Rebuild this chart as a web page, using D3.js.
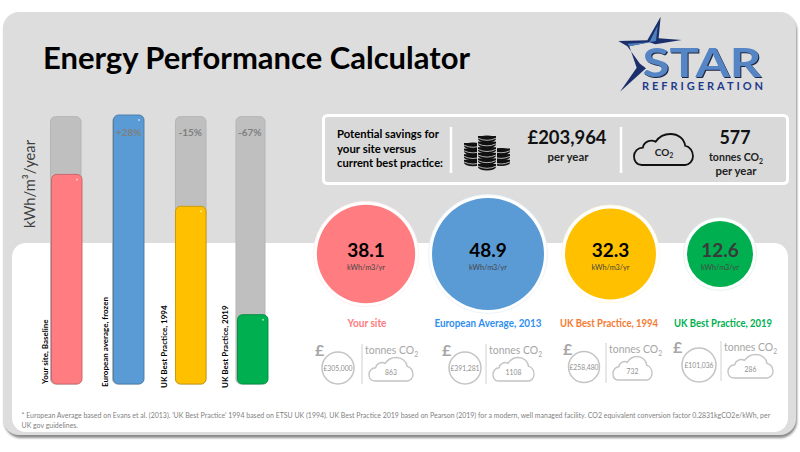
<!DOCTYPE html>
<html>
<head>
<meta charset="utf-8">
<style>
  html, body { margin: 0; padding: 0; background: #fff; }
  svg { display: block; }
  text { font-family: Lato, "Open Sans", sans-serif; }
</style>
<script src="https://cdn.jsdelivr.net/npm/d3@7"></script>
</head>
<body>
<div id="chart"></div>
<script>
// data
const barLabels = ["Your site, Baseline", "European average, frozen", "UK Best Practice, 1994", "UK Best Practice, 2019"];
const circleLabels = ["Your site", "European Average, 2013", "UK Best Practice, 1994", "UK Best Practice, 2019"];
const values = [38.1, 48.9, 32.3, 12.6];
const trackTop = 48.6;
const percents = ["", "+28%", "-15%", "-67%"];
const costs = ["£305,000", "£391,281", "£258,480", "£101,036"];
const tonnes = ["863", "1108", "732", "286"];
const colors = ["#FF7C80", "#5B9BD5", "#FFC000", "#00B050"];
const labelColors = ["#FF7C80", "#2F8FEF", "#F47B30", "#00B050"];
const savingsCost = "£203,964";
const savingsCo2 = "577";
const savingsLines = ["Potential savings for", "your site versus", "current best practice:"];
const footnote = [
  "* European Average based on Evans et al. (2013). 'UK Best Practice'  1994 based on ETSU UK (1994). UK Best Practice 2019 based on Pearson (2019) for a modern, well managed facility.  CO2 equivalent conversion factor 0.2831kgCO2e/kWh, per",
  "UK gov guidelines."
];

// layout of the circles and the small cost/co2 groups
const circleX = [366, 488, 610.5, 720];
const groupX = [319, 446, 567, 677];
const groupDy = [0, 0, -1, -3];
const circleOff = [19, 19, 17, 22];
const ringR = [16, 16, 15.5, 17];
const dividerOff = [43, 40, 39, 44];
const cloudW = [44, 41, 39, 45];

const width = 800, height = 452;
const svg = d3.select("#chart").append("svg")
  .attr("width", width).attr("height", height);

// Lato runs wider than the original font, so squeeze to the measured width
function fit(sel, w) {
  sel.attr("textLength", w).attr("lengthAdjust", "spacingAndGlyphs");
}

const defs = svg.append("defs");
defs.append("filter").attr("id", "blur").append("feGaussianBlur").attr("stdDeviation", 1);

// card + white panel
svg.append("rect").attr("x", 4).attr("y", 14).attr("width", 793).attr("height", 424)
  .attr("rx", 17).attr("fill", "#8c8c8c").attr("filter", "url(#blur)");
svg.append("rect").attr("x", 3).attr("y", 12).attr("width", 793).attr("height", 423)
  .attr("rx", 16).attr("fill", "#dddddd");
svg.append("rect").attr("x", 12).attr("y", 243).attr("width", 776).attr("height", 189)
  .attr("rx", 14).attr("fill", "#ffffff");

svg.append("text").attr("x", 43).attr("y", 69)
  .attr("font-size", 31).attr("font-weight", 700).attr("fill", "#000")
  .call(fit, 427)
  .text("Energy Performance Calculator");

// logo
const logo = svg.append("g").attr("transform", "translate(590,5) scale(0.3333)");
logo.append("path")
  .attr("d", "M85,108 L172,106 L212,35 L206,100 L275,105 L196,118 L178,112 L118,124 L140,188 L90,260 L168,190 L150,176 L112,124 Z")
  .attr("fill", "#1a2f6b");
logo.append("path")
  .attr("d", "M112,116 L178,112 L203,62 L198,108 L178,112 L118,124 Z")
  .attr("fill", "#4f81bd");
svg.append("text").attr("x", 642.5).attr("y", 76.5)
  .attr("font-family", "Liberation Sans").attr("font-size", 40).attr("font-weight", 700)
  .call(fit, 119)
  .style("filter", "drop-shadow(1.5px 1.5px 0 #1c2440)")
  .attr("fill", "#5585c5").text("STAR");
svg.append("text").attr("x", 642).attr("y", 89.5)
  .attr("font-family", "Liberation Sans").attr("font-size", 11).attr("font-weight", 700)
  .attr("textLength", 121).attr("fill", "#1f3a8a").text("REFRIGERATION");

// bars
const x = d3.scaleBand().domain(d3.range(values.length)).range([51.5, 268]).paddingInner(0.508).paddingOuter(0);
const y = d3.scaleLinear().domain([0, 48.9]).range([384, 115]);
const trackNudge = [-1, -1, 0, -1.5];

svg.append("g").selectAll("rect").data(values).join("rect")
  .attr("x", (d, i) => x(i) + trackNudge[i])
  .attr("y", y(trackTop))
  .attr("width", (d, i) => i === 3 ? x.bandwidth() - 1.5 : x.bandwidth())
  .attr("height", y(0) - y(trackTop))
  .attr("rx", 5)
  .attr("fill", "#bfbfbf").attr("stroke", "#b5b5b5");

svg.append("g").selectAll("rect").data(values).join("rect")
  .attr("x", (d, i) => x(i))
  .attr("y", d => y(d))
  .attr("width", x.bandwidth())
  .attr("height", d => y(0) - y(d))
  .attr("rx", 5)
  .attr("fill", (d, i) => colors[i])
  .attr("stroke", (d, i) => d3.color(colors[i]).darker(0.7))
  .attr("stroke-width", 0.9);

svg.append("g").selectAll("circle").data(values).join("circle")
  .attr("cx", (d, i) => x(i) + x.bandwidth() - 5)
  .attr("cy", d => y(d) + 5)
  .attr("r", 1)
  .attr("fill", "#fff").attr("opacity", 0.6);

svg.append("g").selectAll("text").data(percents).join("text")
  .attr("x", (d, i) => x(i) + x.bandwidth() / 2 + (i === 3 ? -3 : i === 2 ? -0.5 : 0))
  .attr("y", 136)
  .attr("text-anchor", "middle")
  .attr("font-size", 10).attr("font-weight", 700).attr("fill", "#7f7f7f")
  .text(d => d);

const barLabelX = [48, 108, 167, 228];
const barLabelY = [384, 387, 388, 388];
svg.append("g").selectAll("text").data(barLabels).join("text")
  .attr("transform", (d, i) => `translate(${barLabelX[i]},${barLabelY[i]}) rotate(-90)`)
  .attr("font-size", 8).attr("font-weight", 700).attr("fill", "#000")
  .text(d => d);

svg.append("text")
  .attr("transform", "translate(35,228) rotate(-90)")
  .attr("font-size", 15.5).attr("fill", "#404040")
  .call(fit, 88)
  .text("kWh/m³/year");

// savings box
svg.append("rect").attr("x", 323.5).attr("y", 115.5).attr("width", 464).attr("height", 68)
  .attr("rx", 4).attr("fill", "#d9d9d9").attr("stroke", "#fff").attr("stroke-width", 3);
[451, 621].forEach(dx => {
  svg.append("line").attr("x1", dx).attr("x2", dx).attr("y1", 127).attr("y2", 173)
    .attr("stroke", "#fff").attr("stroke-width", 2.5);
});
const savingsWidths = [102, 79, 106];
svg.append("g").selectAll("text").data(savingsLines).join("text")
  .attr("x", 337).attr("y", (d, i) => 138 + i * 14.6)
  .attr("font-size", 12).attr("font-weight", 700).attr("fill", "#000")
  .attr("lengthAdjust", "spacingAndGlyphs")
  .attr("textLength", (d, i) => savingsWidths[i])
  .text(d => d);

// coins
function coinStack(cx, top, n) {
  svg.append("rect").attr("x", cx - 10).attr("y", top - 2).attr("width", 20).attr("height", n * 5.6 + 5)
    .attr("rx", 5).attr("fill", "#d9d9d9");
  d3.range(n).forEach(i => {
    const cy = top + i * 5.6;
    svg.append("ellipse").attr("cx", cx).attr("cy", cy + 2).attr("rx", 9).attr("ry", 3.4).attr("fill", "#111");
    svg.append("rect").attr("x", cx - 9).attr("y", cy - 1).attr("width", 18).attr("height", 3).attr("fill", "#111");
    svg.append("path").attr("d", `M${cx - 9},${cy + 1.2} Q${cx},${cy + 5.4} ${cx + 9},${cy + 1.2}`)
      .attr("fill", "none").attr("stroke", "#d9d9d9").attr("stroke-width", 0.8);
  });
}
coinStack(473, 144, 4);
coinStack(501, 149.5, 3);
coinStack(487, 137, 6);

svg.append("text").attr("x", 567).attr("y", 144).attr("text-anchor", "middle")
  .attr("font-size", 19.5).attr("font-weight", 700).attr("fill", "#111").call(fit, 79).text(savingsCost);
svg.append("text").attr("x", 568).attr("y", 161).attr("text-anchor", "middle")
  .attr("font-size", 11.5).attr("font-weight", 700).attr("fill", "#222").call(fit, 41).text("per year");

const cloudPath = "M8,32 C2,32 0,27 0,23 C0,18 4,14 9,14 C10,8 17,5 22,8 C26,2 32,0 37,0 C45,0 51,5 52,12 C57,13 60,18 60,23 C60,28 56,32 52,32 Z";
function cloud(px, py, w, h, stroke, sw, fill) {
  svg.append("path").attr("d", cloudPath)
    .attr("transform", `translate(${px},${py}) scale(${w / 60},${h / 32})`)
    .attr("fill", fill).attr("stroke", stroke).attr("stroke-width", sw)
    .attr("vector-effect", "non-scaling-stroke");
}
function co2Text(t, fontSize) {
  t.append("tspan").text("CO");
  t.append("tspan").attr("dy", fontSize * 0.22).attr("font-size", fontSize * 0.65).text("2");
}
cloud(634, 134, 59, 31, "#111", 1.8, "none");
const cloudCo2 = svg.append("text").attr("x", 664).attr("y", 156).attr("text-anchor", "middle")
  .attr("font-size", 10).attr("font-weight", 700).attr("fill", "#222");
co2Text(cloudCo2, 10);

svg.append("text").attr("x", 735).attr("y", 144).attr("text-anchor", "middle")
  .attr("font-size", 19.5).attr("font-weight", 700).attr("fill", "#111").call(fit, 31).text(savingsCo2);
const tonnesLine = svg.append("text").attr("transform", "translate(736,161) scale(0.92,1)").attr("text-anchor", "middle")
  .attr("font-size", 11.5).attr("font-weight", 700).attr("fill", "#222");
tonnesLine.append("tspan").text("tonnes ");
co2Text(tonnesLine, 11.5);
svg.append("text").attr("x", 736).attr("y", 175).attr("text-anchor", "middle")
  .attr("font-size", 11.5).attr("font-weight", 700).attr("fill", "#222").call(fit, 41).text("per year");

// circles, radius follows the value
const r = d3.scaleLinear().domain([12.6, 48.9]).range([33, 56]);
const circles = svg.append("g").selectAll("g").data(values).join("g")
  .attr("transform", (d, i) => `translate(${circleX[i]},254)`);
circles.append("circle").attr("r", d => r(d) + 3.5)
  .attr("fill", "#fff")
  .attr("stroke", (d, i) => d3.interpolateRgb(colors[i], "#fff")(0.85)).attr("stroke-width", 0.8);
circles.append("circle").attr("r", d => r(d)).attr("fill", (d, i) => colors[i]);
circles.append("text").attr("text-anchor", "middle").attr("y", 2.7)
  .attr("font-size", 19).attr("font-weight", 700)
  .attr("fill", (d, i) => i === 3 ? "#3a3a3a" : "#000")
  .text(d => d);
circles.append("text").attr("text-anchor", "middle").attr("y", 16)
  .attr("font-size", 7.5).attr("fill", "#444")
  .call(fit, 38)
  .text("kWh/m3/yr");

const labelCenters = [367, 488, 609, 723];
const labelWidths = [39, 107, 98, 98];
svg.append("g").selectAll("text").data(circleLabels).join("text")
  .attr("x", (d, i) => labelCenters[i]).attr("y", 327)
  .attr("text-anchor", "middle")
  .attr("font-size", 10.5).attr("font-weight", 700)
  .attr("fill", (d, i) => labelColors[i])
  .attr("lengthAdjust", "spacingAndGlyphs")
  .attr("textLength", (d, i) => labelWidths[i])
  .text(d => d);

// small cost / co2 groups
const grey = "#a6a6a6", lineGrey = "#c4c4c4";
costs.forEach((c, i) => {
  const g0 = groupX[i], dy = groupDy[i];
  svg.append("text").attr("x", g0 - 4).attr("y", 356 + dy).attr("font-size", 16).attr("font-weight", 700)
    .attr("fill", grey).text("£");
  const cx = g0 + circleOff[i];
  svg.append("circle").attr("cx", cx).attr("cy", 368 + dy).attr("r", ringR[i])
    .attr("fill", "#fff").attr("stroke", lineGrey).attr("stroke-width", 1.5);
  svg.append("text").attr("x", cx).attr("y", 370.5 + dy).attr("text-anchor", "middle")
    .attr("font-size", 6.8).attr("fill", "#909090").text(c);
  const dv = g0 + dividerOff[i];
  svg.append("line").attr("x1", dv).attr("x2", dv).attr("y1", 344 + dy).attr("y2", 384 + dy)
    .attr("stroke", "#d0d0d0").attr("stroke-width", 1);
  const t = svg.append("text").attr("transform", `translate(${dv + 3},${354 + dy}) scale(0.87,1)`)
    .attr("font-size", 12).attr("fill", grey);
  t.append("tspan").text("tonnes ");
  co2Text(t, 12);
  cloud(dv + 7, 357.5 + dy, cloudW[i], 23.5, lineGrey, 1.4, "#fff");
  svg.append("text").attr("x", dv + 7 + cloudW[i] / 2).attr("y", 375 + dy).attr("text-anchor", "middle")
    .attr("font-size", 6.8).attr("fill", "#909090").text(tonnes[i]);
});

// footnote
svg.append("g").selectAll("text").data(footnote).join("text")
  .attr("transform", (d, i) => `translate(21.5,${418 + i * 10}) scale(0.885,1)`)
  .attr("font-size", 7.9).attr("fill", "#7f7f7f")
  .text(d => d);
</script>
</body>
</html>
